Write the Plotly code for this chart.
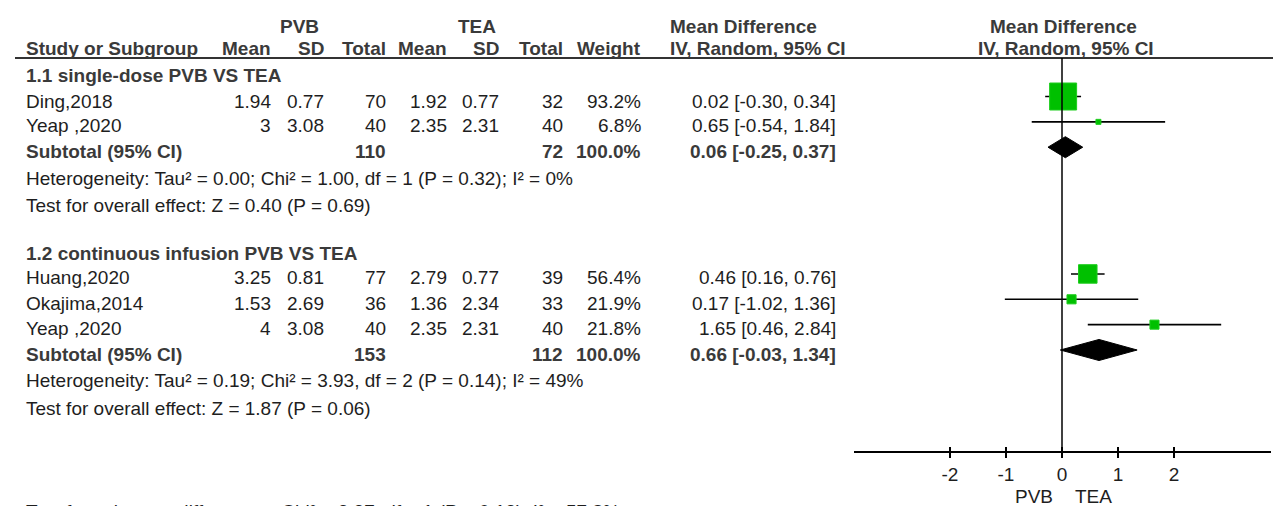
import plotly.graph_objects as go

W, H = 1273, 506

# ---------------- data ----------------
groups = ["1.1 single-dose PVB VS TEA", "1.2 continuous infusion PVB VS TEA"]
studies = ["Ding,2018", "Yeap ,2020", "Huang,2020", "Okajima,2014", "Yeap ,2020"]
study_group = [0, 0, 1, 1, 1]
pvb_mean = ["1.94", "3", "3.25", "1.53", "4"]
pvb_sd = ["0.77", "3.08", "0.81", "2.69", "3.08"]
pvb_total = [70, 40, 77, 36, 40]
tea_mean = ["1.92", "2.35", "2.79", "1.36", "2.35"]
tea_sd = ["0.77", "2.31", "0.77", "2.34", "2.31"]
tea_total = [32, 40, 39, 33, 40]
weight = [93.2, 6.8, 56.4, 21.9, 21.8]
md = [0.02, 0.65, 0.46, 0.17, 1.65]
ci_lo = [-0.30, -0.54, 0.16, -1.02, 0.46]
ci_hi = [0.34, 1.84, 0.76, 1.36, 2.84]

sub_pvb_total = [110, 153]
sub_tea_total = [72, 112]
sub_weight = [100.0, 100.0]
sub_md = [0.06, 0.66]
sub_lo = [-0.25, -0.03]
sub_hi = [0.37, 1.34]
heterogeneity = [
    "Heterogeneity: Tau² = 0.00; Chi² = 1.00, df = 1 (P = 0.32); I² = 0%",
    "Heterogeneity: Tau² = 0.19; Chi² = 3.93, df = 2 (P = 0.14); I² = 49%",
]
overall_effect = [
    "Test for overall effect: Z = 0.40 (P = 0.69)",
    "Test for overall effect: Z = 1.87 (P = 0.06)",
]
subgroup_test = "Test for subgroup differences: Chi² = 2.37, df = 1 (P = 0.12), I² = 57.8%"
tick_vals = [-2, -1, 0, 1, 2]
tick_text = ["-2", "-1", "0", "1", "2"]
favours = ["PVB", "TEA"]

# ---------------- layout helpers ----------------
FONT = "Liberation Sans, Arial, sans-serif"
FS = 19
C_TXT = "#1e1e1e"
C_BOLD = "#3a3a3a"
GREEN = "rgb(0,192,0)"

ROW0_PX = 96.5     # pixel of row 0 (marker centre)
ROW_PX = 25.35     # pixels per row
TEXT_SHIFT = -4    # table text sits a little below the marker centre
AXIS_PX = 452      # forest axis line
RULE_PX = 58       # header rule
PLOT_L, PLOT_R = 854, 1271
X_ZERO_PX = 1062
PX_PER_UNIT = 56.05

def px_x(p):
    return p / W

def px_y(p):
    return 1 - p / H

y_top = -ROW0_PX / ROW_PX
y_bot = (H - ROW0_PX) / ROW_PX
x_min = (PLOT_L - X_ZERO_PX) / PX_PER_UNIT
x_max = (PLOT_R - X_ZERO_PX) / PX_PER_UNIT

# row positions
study_rows, sub_rows, group_rows, het_rows, test_rows = [], [], [], [], []
r = 0
for g in range(len(groups)):
    group_rows.append(r - 0.9)
    for i, sg in enumerate(study_group):
        if sg == g:
            study_rows.append(r)
            r += 1
    sub_rows.append(r)
    het_rows.append(r + 1.1)
    test_rows.append(r + 2.17)
    r += 5

annotations = []

def txt(text, xpx, y, anchor="left", bold=False, yref="y", yshift=0):
    annotations.append(dict(
        text=f"<b>{text}</b>" if bold else text,
        x=px_x(xpx), xref="paper", xanchor=anchor,
        y=(px_y(y) if yref == "paper" else y), yref=yref, yanchor="middle",
        yshift=yshift, showarrow=False,
        font=dict(family=FONT, size=FS, color=(C_BOLD if bold else C_TXT)),
    ))

# column edges (px)
COL_NAME = 24
COL_PM, COL_PS, COL_PT = 273, 326, 388
COL_TM, COL_TS, COL_TT = 449, 501, 565
COL_W = 643
COL_CI_L, COL_CI_R = 668, 838
COL_PLOT_C = 1063

# header
txt("PVB", 299, 26, "center", True, "paper")
txt("TEA", 477, 26, "center", True, "paper")
txt("Mean Difference", COL_CI_L, 26, "left", True, "paper")
txt("Mean Difference", COL_PLOT_C, 26, "center", True, "paper")
for label, xp, an in [("Study or Subgroup", COL_NAME, "left"), ("Mean", COL_PM, "right"),
                      ("SD", COL_PS, "right"), ("Total", COL_PT, "right"),
                      ("Mean", COL_TM, "right"), ("SD", COL_TS, "right"),
                      ("Total", COL_TT, "right"), ("Weight", COL_W, "right"),
                      ("IV, Random, 95% CI", COL_CI_L, "left"),
                      ("IV, Random, 95% CI", COL_PLOT_C + 3, "center")]:
    txt(label, xp, 48.5, an, True, "paper")

# groups
for g in range(len(groups)):
    txt(groups[g], COL_NAME, group_rows[g], "left", True, yshift=TEXT_SHIFT + 2)
    txt("Subtotal (95% CI)", COL_NAME, sub_rows[g], "left", True, yshift=TEXT_SHIFT)
    txt(str(sub_pvb_total[g]), COL_PT, sub_rows[g], "right", True, yshift=TEXT_SHIFT)
    txt(str(sub_tea_total[g]), COL_TT, sub_rows[g], "right", True, yshift=TEXT_SHIFT)
    txt(f"{sub_weight[g]:.1f}%", COL_W, sub_rows[g], "right", True, yshift=TEXT_SHIFT)
    txt(f"{sub_md[g]:.2f} [{sub_lo[g]:.2f}, {sub_hi[g]:.2f}]", COL_CI_R, sub_rows[g], "right", True,
        yshift=TEXT_SHIFT)
    txt(heterogeneity[g], COL_NAME, het_rows[g], "left", yshift=TEXT_SHIFT + 1)
    txt(overall_effect[g], COL_NAME, test_rows[g], "left", yshift=TEXT_SHIFT + 1)

# studies
for i, k in enumerate(study_rows):
    s = TEXT_SHIFT - (1 if i == 0 else 0)
    txt(studies[i], COL_NAME, k, "left", yshift=s)
    txt(pvb_mean[i], COL_PM, k, "right", yshift=s)
    txt(pvb_sd[i], COL_PS, k, "right", yshift=s)
    txt(str(pvb_total[i]), COL_PT, k, "right", yshift=s)
    txt(tea_mean[i], COL_TM, k, "right", yshift=s)
    txt(tea_sd[i], COL_TS, k, "right", yshift=s)
    txt(str(tea_total[i]), COL_TT, k, "right", yshift=s)
    txt(f"{weight[i]:.1f}%", COL_W, k, "right", yshift=s)
    txt(f"{md[i]:.2f} [{ci_lo[i]:.2f}, {ci_hi[i]:.2f}]", COL_CI_R, k, "right", yshift=s)

txt(subgroup_test, COL_NAME, 512, "left", False, "paper")

# favours labels
annotations.append(dict(text=favours[0], x=-0.12, xref="x2", xanchor="right", y=px_y(496), yref="paper",
                        yanchor="middle", showarrow=False, font=dict(family=FONT, size=FS, color=C_TXT)))
annotations.append(dict(text=favours[1], x=0.2, xref="x2", xanchor="left", y=px_y(496), yref="paper",
                        yanchor="middle", showarrow=False, font=dict(family=FONT, size=FS, color=C_TXT)))

fig = go.Figure()

# CI lines
cx, cy = [], []
for i, k in enumerate(study_rows):
    cx += [ci_lo[i], ci_hi[i], None]
    cy += [k, k, None]
fig.add_trace(go.Scatter(x=cx, y=cy, xaxis="x2", yaxis="y", mode="lines",
                         line=dict(color="black", width=1.6), hoverinfo="skip", showlegend=False))

# squares sized by weight
sizes = [max(5.0, 27 * (w / max(weight)) ** 0.75) for w in weight]
fig.add_trace(go.Scatter(x=md, y=study_rows, xaxis="x2", yaxis="y", mode="markers",
                         marker=dict(symbol="square", size=sizes, color=GREEN, opacity=1,
                                     line=dict(color="rgb(30,205,30)", width=1)),
                         opacity=1, showlegend=False))

# diamonds
for g in range(len(groups)):
    k = sub_rows[g]
    h = 0.415
    fig.add_trace(go.Scatter(x=[sub_lo[g], sub_md[g], sub_hi[g], sub_md[g], sub_lo[g]],
                             y=[k, k - h, k, k + h, k], xaxis="x2", yaxis="y",
                             mode="lines", fill="toself", fillcolor="black",
                             line=dict(color="black", width=1), showlegend=False))

# dummy trace for the overlaid tick axis
fig.add_trace(go.Scatter(x=[], y=[], xaxis="x3", yaxis="y", showlegend=False))

axis_pos = px_y(AXIS_PX)
shapes = [
    dict(type="line", xref="paper", yref="paper", x0=px_x(15), x1=1, y0=px_y(RULE_PX), y1=px_y(RULE_PX),
         line=dict(color="#333333", width=2)),
    dict(type="line", xref="x2", yref="paper", x0=0, x1=0, y0=px_y(RULE_PX), y1=axis_pos,
         line=dict(color="black", width=1.5)),
]

fig.update_layout(
    width=W, height=H, margin=dict(l=0, r=0, t=0, b=0),
    paper_bgcolor="white", plot_bgcolor="white",
    showlegend=False,
    annotations=annotations, shapes=shapes,
    xaxis2=dict(domain=[px_x(PLOT_L), px_x(PLOT_R)], range=[x_min, x_max], anchor="free",
                position=axis_pos, showgrid=False, zeroline=False, showline=True,
                linecolor="black", linewidth=1.5, tickvals=tick_vals, ticktext=tick_text,
                ticks="outside", ticklen=5, tickwidth=1.5, tickcolor="black",
                tickfont=dict(family=FONT, size=FS, color=C_TXT), fixedrange=True),
    xaxis3=dict(overlaying="x2", matches="x2", domain=[px_x(PLOT_L), px_x(PLOT_R)],
                range=[x_min, x_max], anchor="free", position=axis_pos,
                showgrid=False, zeroline=False, showline=False, tickvals=tick_vals,
                ticks="inside", ticklen=5, tickwidth=1.5, tickcolor="black",
                showticklabels=False),
    yaxis=dict(domain=[0, 1], range=[y_bot, y_top], anchor="x2", visible=False, fixedrange=True),
)

fig.write_html("out.html", config={"displayModeBar": False},
               post_script="document.body.style.margin='0';document.body.style.overflow='hidden';")
